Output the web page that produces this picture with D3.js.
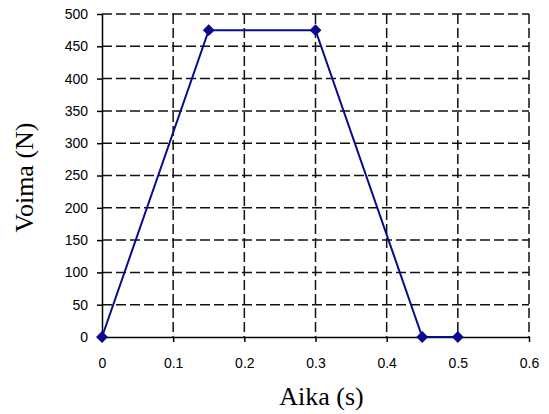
<!DOCTYPE html>
<html>
<head>
<meta charset="utf-8">
<script src="https://cdn.jsdelivr.net/npm/d3@7"></script>
<style>
  body { margin: 0; background: #fff; }
  .tick text { font-family: Arial, "Liberation Sans", sans-serif; font-size: 14px; fill: #000; }
  .grid line { stroke: #111; stroke-width: 1.5; stroke-dasharray: 10 4; }
  .axis path, .axis line { stroke: #000; stroke-width: 1.5; }
</style>
</head>
<body>
<div id="chart"></div>
<script>
const timeValues = [0, 0.15, 0.3, 0.45, 0.5];
const forceValues = [0, 475, 475, 0, 0];
const xTicks = [0, 0.1, 0.2, 0.3, 0.4, 0.5, 0.6];
const yTicks = [0, 50, 100, 150, 200, 250, 300, 350, 400, 450, 500];

const W = 549, H = 414;
const margin = { top: 14, right: 20, bottom: 77, left: 102 },
    width = W - margin.left - margin.right,
    height = H - margin.top - margin.bottom;

const svg = d3.select("#chart")
    .append("svg")
    .attr("width", W)
    .attr("height", H)
    .append("g")
    .attr("transform", "translate(" + margin.left + "," + margin.top + ")");

const x = d3.scaleLinear().domain([0, 0.6]).range([0, 427]);
const y = d3.scaleLinear().domain([0, 500]).range([height, 0]);

// dashed grid
svg.append("g")
    .attr("class", "grid")
    .selectAll("line.h")
    .data(yTicks.filter(d => d > 0))
    .enter()
    .append("line")
    .attr("x1", 0)
    .attr("x2", x(0.6))
    .attr("y1", d => y(d))
    .attr("y2", d => y(d));

svg.append("g")
    .attr("class", "grid")
    .selectAll("line.v")
    .data(xTicks.filter(d => d > 0))
    .enter()
    .append("line")
    .attr("x1", d => x(d))
    .attr("x2", d => x(d))
    .attr("y1", 0)
    .attr("y2", height);

// axes
svg.append("g")
    .attr("class", "axis")
    .attr("transform", "translate(0," + height + ")")
    .call(d3.axisBottom(x)
        .tickValues(xTicks)
        .tickSize(5)
        .tickSizeOuter(0)
        .tickPadding(16)
        .tickFormat(d => d3.format("")(d)));

svg.append("g")
    .attr("class", "axis")
    .call(d3.axisLeft(y)
        .tickValues(yTicks)
        .tickSize(5)
        .tickSizeOuter(0)
        .tickPadding(9));

svg.selectAll(".axis .domain").attr("stroke-width", 2);

// data line
const points = timeValues.map((t, i) => [t, forceValues[i]]);

svg.append("path")
    .datum(points)
    .attr("fill", "none")
    .attr("stroke", "#0a0a8c")
    .attr("stroke-width", 2)
    .attr("d", d3.line().x(d => x(d[0])).y(d => y(d[1])));

svg.append("g")
    .selectAll("path.marker")
    .data(points)
    .enter()
    .append("path")
    .attr("d", d3.symbol().type(d3.symbolDiamond2).size(90))
    .attr("transform", d => "translate(" + x(d[0]) + "," + y(d[1]) + ")")
    .attr("fill", "#0a0a8c");

// axis titles
svg.append("text")
    .attr("x", x(0.3) + 6)
    .attr("y", height + 68)
    .attr("text-anchor", "middle")
    .attr("font-family", "'Liberation Serif', 'Times New Roman', serif")
    .attr("font-size", 26)
    .text("Aika (s)");

svg.append("text")
    .attr("transform", "translate(" + (-69) + "," + (height / 2 + 2) + ") rotate(-90)")
    .attr("text-anchor", "middle")
    .attr("font-family", "'Liberation Serif', 'Times New Roman', serif")
    .attr("font-size", 26)
    .text("Voima (N)");
</script>
</body>
</html>
